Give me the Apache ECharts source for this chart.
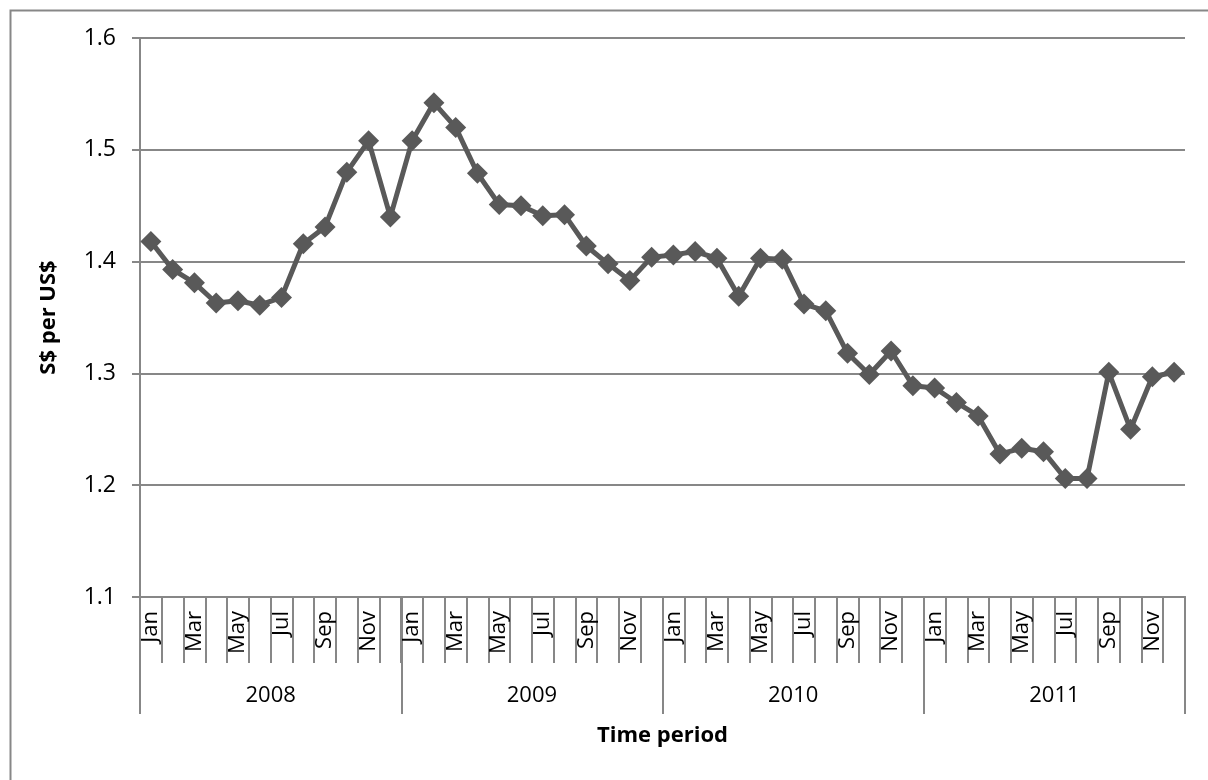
<!DOCTYPE html>
<html>
<head>
<meta charset="utf-8">
<script src="https://cdn.jsdelivr.net/npm/echarts@6/dist/echarts.min.js"></script>
<style>
html,body{margin:0;padding:0;background:#fff;}
#chart{width:1208px;height:780px;}
</style>
</head>
<body>
<div id="chart"></div>
<script>
const months = ['Jan','Feb','Mar','Apr','May','Jun','Jul','Aug','Sep','Oct','Nov','Dec'];
const years = ['2008','2009','2010','2011'];
const rate2008 = [1.418,1.393,1.381,1.363,1.365,1.361,1.368,1.416,1.431,1.480,1.508,1.440];
const rate2009 = [1.508,1.542,1.520,1.479,1.451,1.450,1.441,1.442,1.414,1.398,1.383,1.404];
const rate2010 = [1.406,1.409,1.403,1.369,1.403,1.402,1.362,1.356,1.318,1.299,1.320,1.289];
const rate2011 = [1.287,1.274,1.262,1.228,1.233,1.230,1.206,1.206,1.301,1.250,1.297,1.301];
const yTicks = [1.1,1.2,1.3,1.4,1.5,1.6];

const monthCats = [];
years.forEach(y => months.forEach(m => monthCats.push(m)));
const values = [].concat(rate2008, rate2009, rate2010, rate2011);

const FONT = '"Open Sans", "Noto Sans", sans-serif';
const GRAY = '#878787';

const chart = echarts.init(document.getElementById('chart'), null, {renderer:'canvas'});
chart.setOption({
  animation: false,
  backgroundColor: '#ffffff',
  textStyle: {fontFamily: FONT},
  graphic: [{
    type: 'rect', left: 8, top: 8, z: -10,
    shape: {width: 1400, height: 1000},
    style: {fill: 'none', stroke: GRAY, lineWidth: 2}
  }],
  grid: {left: 140, right: 23, top: 38, bottom: 183, containLabel: false},
  xAxis: [{
    type: 'category',
    data: monthCats,
    position: 'bottom',
    boundaryGap: true,
    axisLine: {show: true, lineStyle: {color: GRAY, width: 2}},
    axisTick: {show: true, interval: 0, length: 66, lineStyle: {color: GRAY, width: 2}},
    axisLabel: {interval: 1, rotate: 90, margin: 14, fontSize: 22, color: '#000', fontFamily: FONT},
    splitLine: {show: false}
  }, {
    type: 'category',
    data: years,
    position: 'bottom',
    boundaryGap: true,
    axisLine: {show: true, lineStyle: {color: GRAY, width: 2}},
    axisTick: {show: true, interval: 0, length: 117, lineStyle: {color: GRAY, width: 2}},
    axisLabel: {interval: 0, margin: 88, fontSize: 22, color: '#000', fontFamily: FONT},
    splitLine: {show: false},
    name: 'Time period',
    nameLocation: 'middle',
    nameGap: 128,
    nameTextStyle: {fontSize: 22, fontWeight: 'bold', color: '#000', fontFamily: FONT}
  }],
  yAxis: {
    type: 'value',
    min: yTicks[0],
    max: yTicks[yTicks.length - 1],
    interval: 0.1,
    axisLine: {show: true, lineStyle: {color: GRAY, width: 2}},
    axisTick: {show: true, length: 8, lineStyle: {color: GRAY, width: 2}},
    axisLabel: {margin: 24, fontSize: 23, color: '#000', fontFamily: FONT,
      formatter: v => v.toFixed(1)},
    splitLine: {show: true, lineStyle: {color: GRAY, width: 2}},
    name: 'S$ per US$',
    nameLocation: 'middle',
    nameGap: 80,
    nameRotate: 90,
    nameTextStyle: {fontSize: 22, fontWeight: 'bold', color: '#000', fontFamily: FONT}
  },
  series: [{
    type: 'line',
    xAxisIndex: 0,
    data: values,
    symbol: 'diamond',
    symbolSize: 21,
    showAllSymbol: true,
    lineStyle: {color: '#595959', width: 5},
    itemStyle: {color: '#595959'},
    z: 5
  }]
});
</script>
</body>
</html>
